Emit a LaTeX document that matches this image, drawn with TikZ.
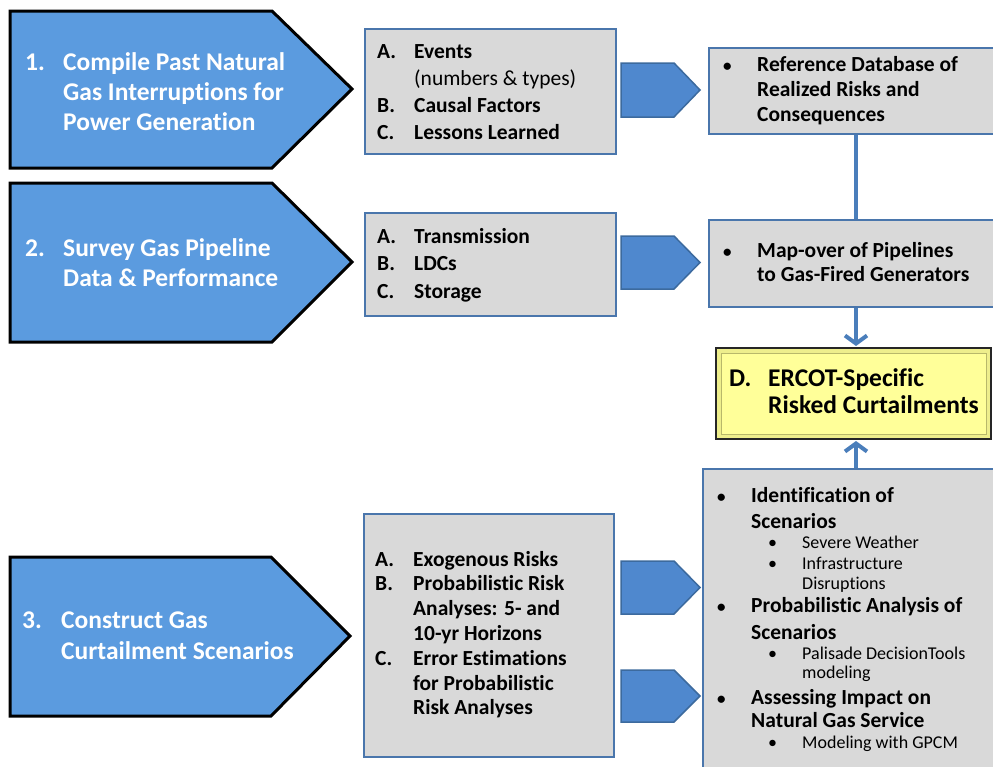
\documentclass[tikz,border=0pt]{standalone}
\usepackage{fontspec}
\setmainfont{Carlito}[Ligatures=NoCommon]
\usetikzlibrary{arrows.meta,calc}
\definecolor{bigblue}{HTML}{5B9BDF}
\definecolor{smallblue}{HTML}{4F88CE}
\definecolor{smallborder}{HTML}{3C6A9E}
\definecolor{boxfill}{HTML}{D9D9D9}
\definecolor{boxborder}{HTML}{4A76AC}
\definecolor{connblue}{HTML}{4A7EBB}
\definecolor{yelfill}{HTML}{FFFF99}
\definecolor{yelband}{HTML}{EEEE8C}
\definecolor{yelline}{HTML}{B8B86A}
\tikzset{
  bigarrow/.style={fill=bigblue,draw=black,line width=3pt,line join=miter},
  smallarrow/.style={fill=smallblue,draw=smallborder,line width=1.5pt},
  graybox/.style={rectangle,fill=boxfill,draw=boxborder,line width=2pt,inner sep=0pt,anchor=north west},
  conn/.style={draw=connblue,line width=4pt},
  tip/.style={-{Straight Barb[length=8pt,width=22pt]}},
  txt/.style={anchor=base west,inner sep=0pt,align=left},
}
\newcommand{\smbul}{{\fontsize{17}{17}\selectfont\textbullet}}
\begin{document}
\begin{tikzpicture}[x=1pt,y=-1pt]
\clip (0,0) rectangle (993,766);
\fill[white] (0,0) rectangle (993,766);

% big arrows
\draw[bigarrow] (10,11) -- (272,11) -- (352,89) -- (272,168) -- (10,168) -- cycle;
\draw[bigarrow] (10,183) -- (272,183) -- (352,262) -- (272,342) -- (10,342) -- cycle;
\draw[bigarrow] (10,557) -- (271,557) -- (350,636) -- (271,716) -- (10,716) -- cycle;

\node[txt,text=white] (t1) at (25,70) {\fontsize{25.5}{30}\selectfont\bfseries
  \begin{tabular}[t]{@{}p{38pt}@{}l@{}}1. & Compile Past Natural\\ & Gas Interruptions for\\ & Power Generation\end{tabular}};
\node[txt,text=white] (t2) at (25,256) {\fontsize{25.5}{30}\selectfont\bfseries
  \begin{tabular}[t]{@{}p{38pt}@{}l@{}}2. & Survey Gas Pipeline\\ & Data \& Performance\end{tabular}};
\node[txt,text=white] (t3) at (22,628) {\fontsize{25.5}{31}\selectfont\bfseries
  \begin{tabular}[t]{@{}p{39pt}@{}l@{}}3. & Construct Gas\\ & Curtailment Scenarios\end{tabular}};

% middle boxes
\node[graybox,minimum width=251pt,minimum height=125pt] (b1) at (364,28) {};
\node[graybox,minimum width=251pt,minimum height=103pt] (b2) at (364,212) {};
\node[graybox,minimum width=250pt,minimum height=243pt] (b3) at (363,513) {};

\node[txt] (b1t) at (377,58) {\fontsize{21.5}{27}\selectfont
  \begin{tabular}[t]{@{}p{37pt}@{}l@{}}\bfseries A. & \bfseries Events\\ & (numbers \& types)\\ \bfseries B. & \bfseries Causal Factors\\ \bfseries C. & \bfseries Lessons Learned\end{tabular}};
\node[txt] (b2t) at (377,243) {\fontsize{21.5}{27.5}\selectfont\bfseries
  \begin{tabular}[t]{@{}p{37pt}@{}l@{}}A. & Transmission\\ B. & LDCs\\ C. & Storage\end{tabular}};
\node[txt] (b3t) at (375,566) {\fontsize{21.5}{24.8}\selectfont\bfseries
  \begin{tabular}[t]{@{}p{38pt}@{}l@{}}A. & Exogenous Risks\\ B. & Probabilistic Risk\\ & Analyses: 5- and\\ & 10-yr Horizons\\ C. & Error Estimations\\ & for Probabilistic\\ & Risk Analyses\end{tabular}};

% small arrows
\draw[smallarrow] (621,63) -- (674,63) -- (700,90) -- (674,117) -- (621,117) -- cycle;
\draw[smallarrow] (621,236) -- (674,236) -- (700,262.5) -- (674,289) -- (621,289) -- cycle;
\draw[smallarrow] (621,561) -- (674,561) -- (700,587.5) -- (674,614) -- (621,614) -- cycle;
\draw[smallarrow] (621,670) -- (674,670) -- (700,696) -- (674,722) -- (621,722) -- cycle;

% right boxes
\node[graybox,minimum width=300pt,minimum height=86pt] (ref) at (708,47) {};
\node[graybox,minimum width=300pt,minimum height=87pt] (map) at (708,219) {};
\node[graybox,minimum width=300pt,minimum height=310pt] (bot) at (702,468) {};

\node[txt] (reft) at (723,71) {\fontsize{21.5}{25}\selectfont\bfseries
  \begin{tabular}[t]{@{}p{34pt}@{}l@{}}\smbul & Reference Database of\\ & Realized Risks and\\ & Consequences\end{tabular}};
\node[txt] (mapt) at (723,257) {\fontsize{21.5}{24}\selectfont\bfseries
  \begin{tabular}[t]{@{}p{34pt}@{}l@{}}\smbul & Map-over of Pipelines\\ & to Gas-Fired Generators\end{tabular}};

% yellow box
\node[rectangle,fill=yelband,draw=black!85,line width=2pt,minimum width=275pt,minimum height=91pt,anchor=north west,inner sep=0pt] (D) at (715,347) {};
\fill[yelfill,draw=yelline,line width=0.8pt] ($(D.north west)+(6,6)$) rectangle ($(D.south east)+(-6,-6)$);
\node[txt] (Dt) at (729,386) {\fontsize{25.5}{27}\selectfont\bfseries
  \begin{tabular}[t]{@{}p{39pt}@{}l@{}}D. & ERCOT-Specific\\ & Risked Curtailments\end{tabular}};

% bottom-right list
\tikzset{big/.style={txt,font=\fontsize{21.5}{25}\selectfont\bfseries},
         small/.style={txt,font=\fontsize{18}{20}\selectfont}}
\node[big] (k1) at (717,502) {\smbul};
\node[big] (l1) at (751,502) {Identification of};
\node[big] (l2) at (751,528) {Scenarios};
\node[small] (s1b) at (768,548) {\textbullet};
\node[small] (s1) at (802,548) {Severe Weather};
\node[small] (s2b) at (768,569) {\textbullet};
\node[small] (s2) at (802,569) {Infrastructure};
\node[small] (s3) at (802,589) {Disruptions};
\node[big] (k2) at (717,612) {\smbul};
\node[big] (l3) at (751,612) {Probabilistic Analysis of};
\node[big] (l4) at (751,639) {Scenarios};
\node[small] (s4b) at (768,659) {\textbullet};
\node[small] (s4) at (802,659) {Palisade DecisionTools};
\node[small] (s5) at (802,678) {modeling};
\node[big] (k3) at (717,704) {\smbul};
\node[big] (l5) at (751,704) {Assessing Impact on};
\node[big] (l6) at (751,727) {Natural Gas Service};
\node[small] (s6b) at (768,748) {\textbullet};
\node[small] (s6) at (802,748) {Modeling with GPCM};

% connectors
\coordinate (cx) at (856,0);
\draw[conn] (ref.south -| cx) -- (map.north -| cx);
\draw[conn,tip] (map.south -| cx) -- ($(D.north -| cx)+(0,-1)$);
\draw[conn,tip] (bot.north -| cx) -- ($(D.south -| cx)+(0,1)$);
\end{tikzpicture}
\end{document}
